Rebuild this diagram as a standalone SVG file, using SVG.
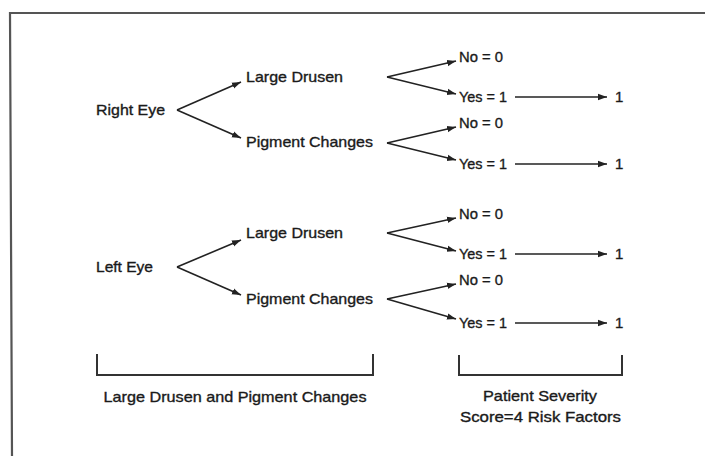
<svg xmlns="http://www.w3.org/2000/svg" width="705" height="456" viewBox="0 0 705 456">
<style>
text{font-family:"Liberation Sans",Arial,sans-serif;font-size:15px;fill:#1a1a1a;stroke:#1a1a1a;stroke-width:0.35}
.c{text-anchor:middle}
.ln{stroke:#222;stroke-width:1.6;fill:none}
.br{stroke:#333;stroke-width:2;fill:none}
</style>
<defs>
<marker id="ah" markerUnits="userSpaceOnUse" markerWidth="10" markerHeight="8" refX="9" refY="4" orient="auto">
<path d="M0,0.8 L9,4 L0,7.2 Z" fill="#222"/>
</marker>
</defs>
<rect width="705" height="456" fill="#fff"/>
<polyline points="705,13 10,13 12,456" fill="none" stroke="#555" stroke-width="2.2"/>
<g id="connectors" class="ln">
<line x1="177" y1="110" x2="241" y2="82" marker-end="url(#ah)"/>
<line x1="177" y1="110" x2="241" y2="138" marker-end="url(#ah)"/>
<line x1="177" y1="267" x2="241" y2="240" marker-end="url(#ah)"/>
<line x1="177" y1="267" x2="241" y2="295" marker-end="url(#ah)"/>
<line x1="387" y1="77" x2="456" y2="61" marker-end="url(#ah)"/>
<line x1="387" y1="77" x2="456" y2="94" marker-end="url(#ah)"/>
<line x1="387" y1="143" x2="456" y2="127" marker-end="url(#ah)"/>
<line x1="387" y1="143" x2="456" y2="160" marker-end="url(#ah)"/>
<line x1="387" y1="233" x2="456" y2="218" marker-end="url(#ah)"/>
<line x1="387" y1="233" x2="456" y2="251" marker-end="url(#ah)"/>
<line x1="387" y1="299" x2="456" y2="284" marker-end="url(#ah)"/>
<line x1="387" y1="299" x2="456" y2="319" marker-end="url(#ah)"/>
<line x1="515" y1="97" x2="607" y2="97" marker-end="url(#ah)"/>
<line x1="515" y1="164" x2="607" y2="164" marker-end="url(#ah)"/>
<line x1="515" y1="254" x2="607" y2="254" marker-end="url(#ah)"/>
<line x1="515" y1="323" x2="607" y2="323" marker-end="url(#ah)"/>
</g>
<g id="right-eye"><text x="96" y="115" textLength="69" lengthAdjust="spacingAndGlyphs">Right Eye</text></g>
<g id="left-eye"><text x="96" y="272" textLength="57" lengthAdjust="spacingAndGlyphs">Left Eye</text></g>
<g id="r-drusen"><text x="246" y="82" textLength="97" lengthAdjust="spacingAndGlyphs">Large Drusen</text></g>
<g id="r-pigment"><text x="246" y="147" textLength="127" lengthAdjust="spacingAndGlyphs">Pigment Changes</text></g>
<g id="l-drusen"><text x="246" y="238" textLength="97" lengthAdjust="spacingAndGlyphs">Large Drusen</text></g>
<g id="l-pigment"><text x="246" y="304" textLength="127" lengthAdjust="spacingAndGlyphs">Pigment Changes</text></g>
<g id="r-d-no"><text x="459" y="62" textLength="44" lengthAdjust="spacingAndGlyphs">No = 0</text></g>
<g id="r-d-yes"><text x="459" y="102" textLength="48" lengthAdjust="spacingAndGlyphs">Yes = 1</text></g>
<g id="r-p-no"><text x="459" y="128" textLength="44" lengthAdjust="spacingAndGlyphs">No = 0</text></g>
<g id="r-p-yes"><text x="459" y="169" textLength="48" lengthAdjust="spacingAndGlyphs">Yes = 1</text></g>
<g id="l-d-no"><text x="459" y="219" textLength="44" lengthAdjust="spacingAndGlyphs">No = 0</text></g>
<g id="l-d-yes"><text x="459" y="259" textLength="48" lengthAdjust="spacingAndGlyphs">Yes = 1</text></g>
<g id="l-p-no"><text x="459" y="285" textLength="44" lengthAdjust="spacingAndGlyphs">No = 0</text></g>
<g id="l-p-yes"><text x="459" y="328" textLength="48" lengthAdjust="spacingAndGlyphs">Yes = 1</text></g>
<g id="score1"><text x="615" y="102">1</text></g>
<g id="score2"><text x="615" y="169">1</text></g>
<g id="score3"><text x="615" y="259">1</text></g>
<g id="score4"><text x="615" y="328">1</text></g>
<g id="bracket-left">
<polyline class="br" points="97,354 97,375 373,375 373,354"/>
<text class="c" x="235" y="402" textLength="263" lengthAdjust="spacingAndGlyphs">Large Drusen and Pigment Changes</text>
</g>
<g id="bracket-right">
<polyline class="br" points="459,355 459,375 622,375 622,355"/>
<text class="c" x="540" y="401" textLength="114" lengthAdjust="spacingAndGlyphs">Patient Severity</text>
<text class="c" x="540.5" y="422" textLength="161" lengthAdjust="spacingAndGlyphs">Score=4 Risk Factors</text>
</g>
</svg>
